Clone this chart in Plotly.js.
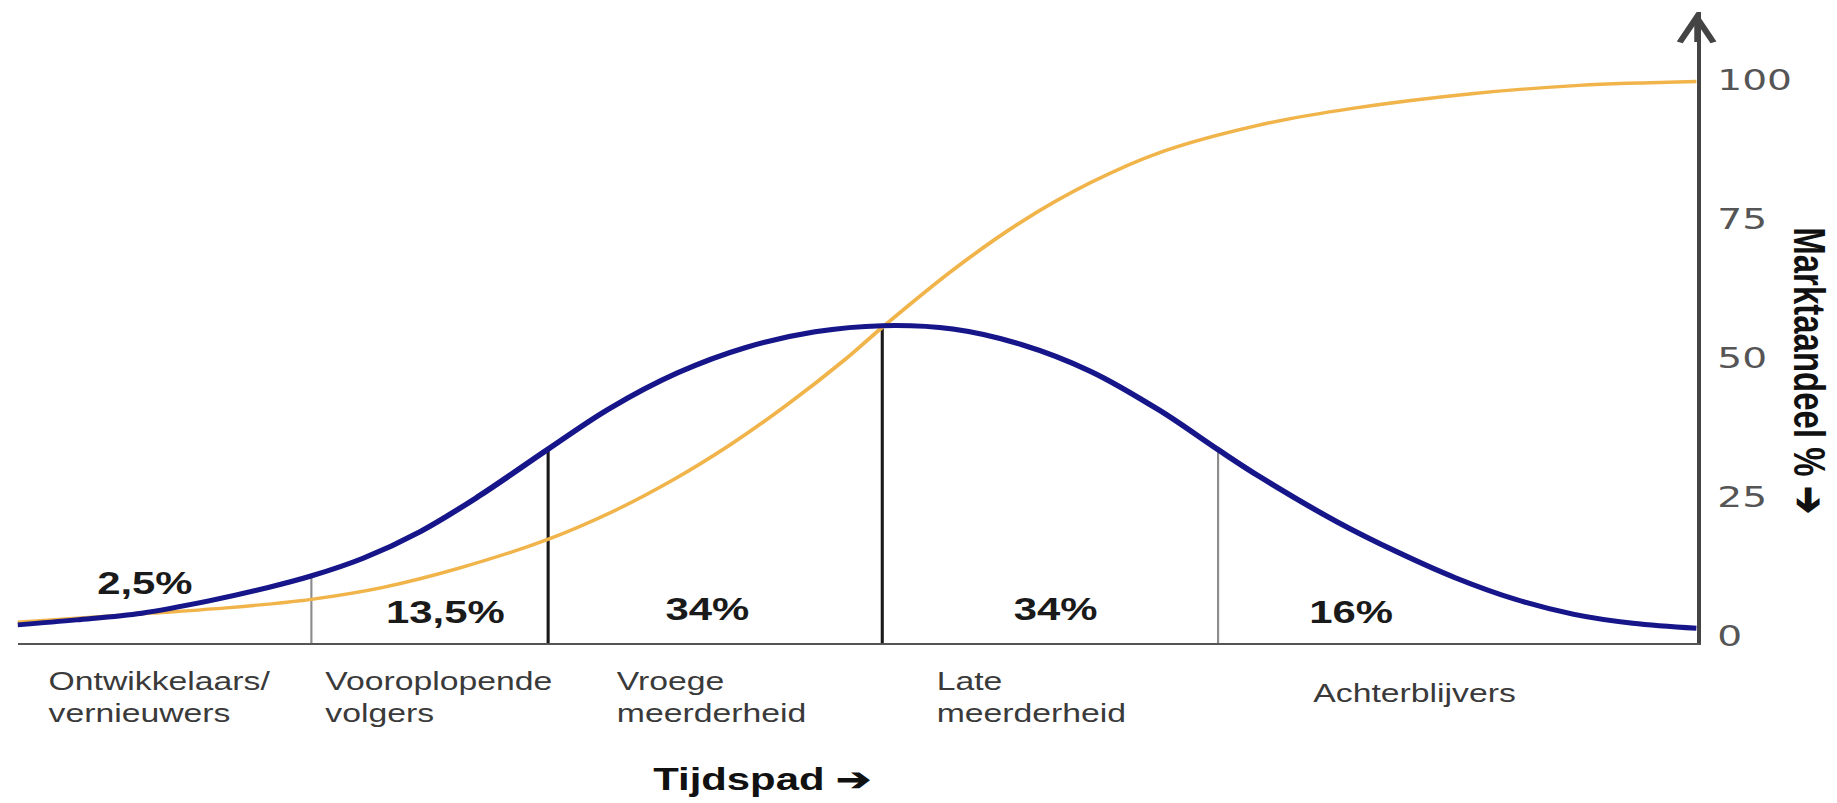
<!DOCTYPE html>
<html>
<head>
<meta charset="utf-8">
<script src="https://cdn.plot.ly/plotly-3.0.1.min.js"></script>
<style>
  html, body { margin: 0; padding: 0; overflow: hidden; background: #ffffff; }
  #chart { width: 1361px; height: 803px; transform: scaleX(1.34974); transform-origin: 0 0; }
</style>
</head>
<body>
<div id="chart"></div>
<script>
// ---- data ----
const timeBell = [0, 3.5, 7.4, 11.4, 14.9, 17.5, 20.6, 24.0, 27.4, 31.6, 35.2, 39.3, 43.4, 47.5, 51.5, 55.7, 59.8, 63.9, 68.0, 71.5, 74.0, 78.6, 82.1, 85.6, 89.2, 92.7, 96.2, 100];
const adoptionRate = [2.0, 2.9, 4.1, 6.3, 8.7, 10.8, 14.0, 18.8, 25.0, 33.6, 40.8, 47.3, 51.9, 54.7, 55.8, 55.2, 52.4, 47.6, 40.6, 33.5, 28.6, 20.5, 15.2, 10.5, 6.6, 3.9, 2.3, 1.4];

const timeS = [0, 8.0, 12.6, 17.5, 21.7, 26.3, 31.6, 35.6, 39.0, 42.4, 45.8, 49.2, 51.5, 55.7, 59.8, 63.9, 68.0, 74.0, 79.6, 86.6, 93.0, 100];
const marketShare = [2.5, 4.1, 5.1, 6.6, 8.7, 12.2, 17.4, 22.6, 28.0, 34.3, 41.5, 49.5, 55.5, 65.8, 74.5, 81.5, 86.9, 91.9, 94.9, 97.5, 99.0, 99.7];

const segmentBounds = [17.5, 31.6, 51.5, 71.5];
const segmentTops = [10.8, 33.6, 55.8, 33.5];
const segmentShares = ['2,5%', '13,5%', '34%', '34%', '16%'];
const segmentNames = ['Ontwikkelaars/<br>vernieuwers', 'Vooroplopende<br>volgers', 'Vroege<br>meerderheid', 'Late<br>meerderheid', 'Achterblijvers'];
const yTickVals = [0, 25, 50, 75, 100];
const yTickText = ['0', '25', '50', '75', '100'];

// ---- layout helpers (positions / styles) ----
const yMin = -1.26, yMax = 112.2;
const shareLabelPos = [[7.6, 9.5], [25.5, 4.3], [41.1, 4.7], [61.8, 4.7], [79.4, 4.3]];
const nameLabelPos = [[1.7, -0.086], [18.2, -0.086], [35.5, -0.086], [54.6, -0.086], [77.0, -0.079]];
const boundStyle = [
  {color: '#8c8c8c', width: 1.6},
  {color: '#1a1a1a', width: 2.3},
  {color: '#1a1a1a', width: 2.3},
  {color: '#8c8c8c', width: 1.6}
];

const traces = [];
segmentBounds.forEach(function (b, i) {
  traces.push({
    type: 'scatter', mode: 'lines',
    x: [b, b], y: [yMin, segmentTops[i]],
    line: {color: boundStyle[i].color, width: boundStyle[i].width},
    hoverinfo: 'skip', showlegend: false
  });
});
traces.push({
  type: 'scatter', mode: 'lines', name: 'Marktaandeel',
  x: timeS, y: marketShare,
  line: {color: '#f0b44a', width: 3.3, shape: 'spline', smoothing: 1},
  showlegend: false
});
traces.push({
  type: 'scatter', mode: 'lines', name: 'Adoptie',
  x: timeBell, y: adoptionRate,
  line: {color: '#16168a', width: 5, shape: 'spline', smoothing: 1},
  showlegend: false
});

const annotations = [];
segmentShares.forEach(function (t, i) {
  annotations.push({
    x: shareLabelPos[i][0], y: shareLabelPos[i][1], xref: 'x', yref: 'y',
    text: t, showarrow: false, xanchor: 'center', yanchor: 'middle',
    font: {family: 'Liberation Sans, Arial, sans-serif', size: 31, color: '#1a1a1a', weight: 'bold'}
  });
});
segmentNames.forEach(function (t, i) {
  annotations.push({
    x: nameLabelPos[i][0], y: nameLabelPos[i][1], xref: 'x', yref: 'paper',
    text: t, showarrow: false, xanchor: 'left', yanchor: 'middle', align: 'left',
    font: {family: 'Liberation Sans, Arial, sans-serif', size: 25, color: '#3a3a3a'}
  });
});
annotations.push({
  x: 44.4, y: -0.2171, xref: 'x', yref: 'paper',
  text: '<b>Tijdspad ➔</b>', showarrow: false, xanchor: 'center', yanchor: 'middle',
  font: {family: 'Liberation Sans, Arial, sans-serif', size: 31, color: '#111111'}
});
annotations.push({
  x: 1.0675, y: 0.431, xref: 'paper', yref: 'paper',
  text: '<b>Marktaandeel % ➔</b>', showarrow: false, textangle: 90,
  xanchor: 'center', yanchor: 'middle',
  font: {family: 'Liberation Sans, Arial, sans-serif', size: 33, color: '#111111'}
});
// arrow head on the vertical axis
annotations.push({
  x: 100, y: 1, xref: 'x', yref: 'paper',
  text: ' ', showarrow: true, ax: 0, ay: 40,
  arrowhead: 5, arrowsize: 1.4, arrowwidth: 3.5, arrowcolor: '#444444', standoff: 0
});

const layout = {
  width: 1361, height: 803,
  margin: {l: 13, r: 104, t: 12, b: 160},
  paper_bgcolor: '#ffffff', plot_bgcolor: '#ffffff',
  showlegend: false,
  xaxis: {
    range: [0, 100], showgrid: false, zeroline: false, showticklabels: false,
    ticks: '', showline: true, linecolor: '#555555', linewidth: 2, automargin: false
  },
  yaxis: {
    range: [yMin, yMax], side: 'right', showgrid: false, zeroline: false,
    tickvals: yTickVals, ticktext: yTickText, ticks: '',
    ticklabelstandoff: 6,
    tickfont: {family: 'DejaVu Sans, Verdana, sans-serif', size: 29, color: '#555555'},
    showline: true, linecolor: '#444444', linewidth: 3.5, automargin: false
  },
  annotations: annotations
};

Plotly.newPlot('chart', traces, layout, {displayModeBar: false, staticPlot: true});
</script>
</body>
</html>
